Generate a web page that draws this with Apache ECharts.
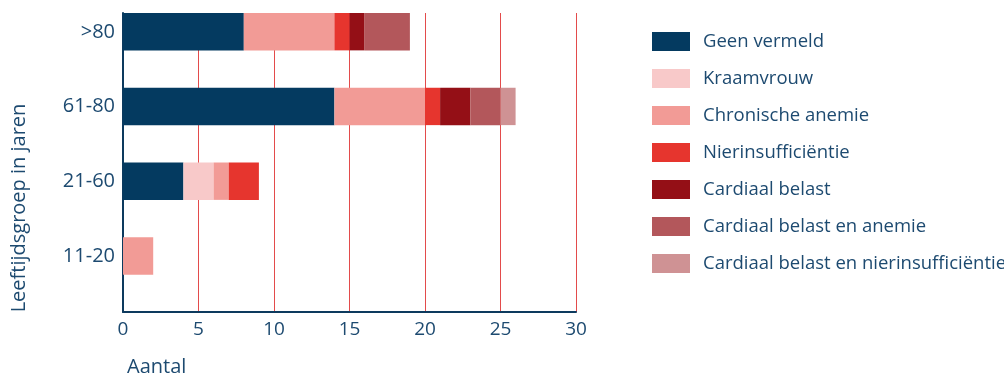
<!DOCTYPE html>
<html>
<head>
<meta charset="utf-8">
<title>Leeftijdsgroep in jaren</title>
<script src="https://cdn.jsdelivr.net/npm/echarts@6/dist/echarts.min.js"></script>
<style>
  html, body { margin: 0; padding: 0; background: #ffffff; }
  #chart { width: 1004px; height: 378px; }
</style>
</head>
<body>
<div id="chart"></div>
<script>
// Age groups, bottom to top
const categories = ['11-20', '21-60', '61-80', '>80'];

// Counts per age group for each category
const geenVermeld        = [0, 4, 14, 8];
const kraamvrouw         = [0, 2, 0, 0];
const chronischeAnemie   = [2, 1, 6, 6];
const nierinsufficientie = [0, 2, 1, 1];
const cardiaalBelast     = [0, 0, 2, 1];
const cardiaalAnemie     = [0, 0, 2, 3];
const cardiaalNier       = [0, 0, 1, 0];

const xTicks = [0, 5, 10, 15, 20, 25, 30];

const seriesDefs = [
  { name: 'Geen vermeld', data: geenVermeld, color: '#043a60' },
  { name: 'Kraamvrouw', data: kraamvrouw, color: '#f8c9c9' },
  { name: 'Chronische anemie', data: chronischeAnemie, color: '#f29b96' },
  { name: 'Nierinsufficiëntie', data: nierinsufficientie, color: '#e6352e' },
  { name: 'Cardiaal belast', data: cardiaalBelast, color: '#940f16' },
  { name: 'Cardiaal belast en anemie', data: cardiaalAnemie, color: '#b3575b' },
  { name: 'Cardiaal belast en nierinsufficiëntie', data: cardiaalNier, color: '#cf9294' }
];

const textColor = '#1d4a70';
const axisColor = '#0d3a5e';
const font = '"Open Sans", "Noto Sans", sans-serif';

const series = seriesDefs.map(s => ({
  name: s.name,
  type: 'bar',
  stack: 'totaal',
  data: s.data,
  itemStyle: { color: s.color },
  barGap: '0%',
  barCategoryGap: '0%'
}));

// Empty companion stack: keeps each bar in the upper half of its band
series.push({
  name: 'ruimte',
  type: 'bar',
  stack: 'ruimte',
  data: categories.map(() => null),
  barGap: '0%',
  barCategoryGap: '0%',
  silent: true
});

const chart = echarts.init(document.getElementById('chart'), null, { renderer: 'canvas' });

chart.setOption({
  animation: false,
  textStyle: { fontFamily: font },
  grid: { left: 123, right: 428, top: 13, bottom: 66, containLabel: false },
  legend: {
    data: seriesDefs.map(s => s.name),
    orient: 'vertical',
    left: 652,
    top: 32,
    padding: 0,
    itemWidth: 38,
    itemHeight: 19,
    itemGap: 18,
    icon: 'rect',
    selectedMode: false,
    textStyle: {
      color: textColor,
      fontSize: 18.5,
      fontFamily: font,
      lineHeight: 19,
      padding: [0, 0, 0, 8]
    }
  },
  xAxis: {
    type: 'value',
    min: xTicks[0],
    max: xTicks[xTicks.length - 1],
    interval: 5,
    axisLine: { show: true, onZero: false, lineStyle: { color: axisColor, width: 2 } },
    axisTick: { show: false },
    axisLabel: { color: textColor, fontSize: 19, fontFamily: font, margin: 8 },
    splitLine: { show: true, lineStyle: { color: '#e34b4b', width: 1 } }
  },
  yAxis: {
    type: 'category',
    data: categories,
    axisLine: { show: true, lineStyle: { color: axisColor, width: 2 } },
    axisTick: { show: false },
    axisLabel: {
      color: textColor,
      fontSize: 20,
      fontFamily: font,
      margin: 8,
      // lift each label to the centre of its bar (upper half of the band)
      verticalAlign: 'bottom',
      lineHeight: 37
    },
    splitLine: { show: false }
  },
  graphic: [
    {
      type: 'text',
      x: 19,
      y: 208,
      rotation: Math.PI / 2,
      style: {
        text: 'Leeftijdsgroep in jaren',
        fill: textColor,
        font: '20px ' + font,
        align: 'center',
        verticalAlign: 'middle'
      }
    },
    {
      type: 'text',
      x: 127,
      y: 367,
      style: {
        text: 'Aantal',
        fill: textColor,
        font: '20px ' + font,
        align: 'left',
        verticalAlign: 'middle'
      }
    }
  ],
  series: series
});
</script>
</body>
</html>
